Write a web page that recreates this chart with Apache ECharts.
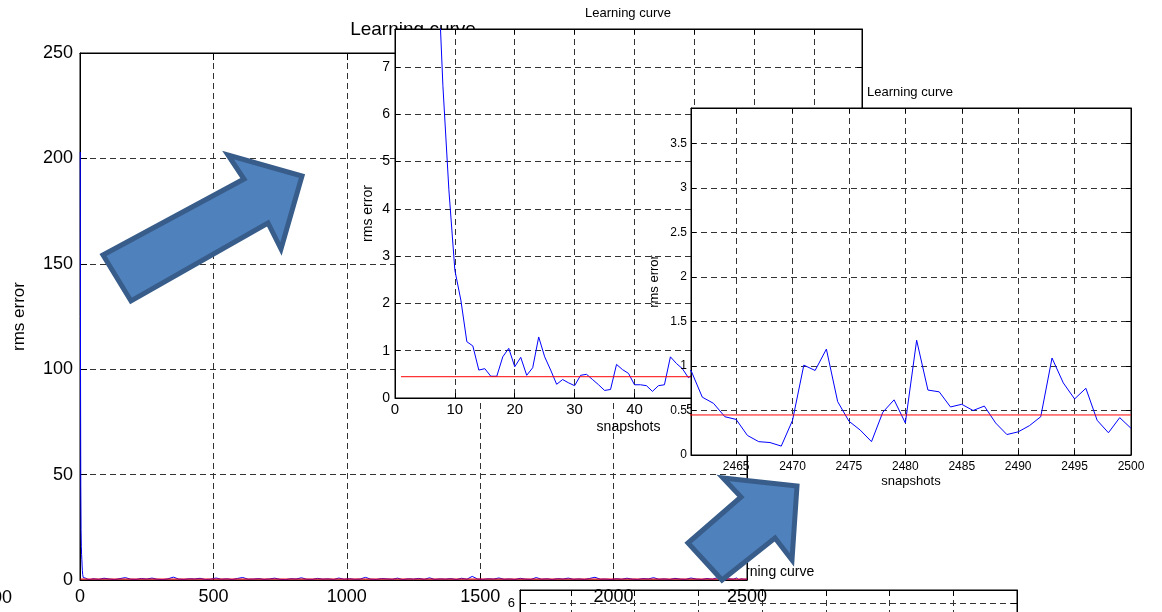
<!DOCTYPE html>
<html>
<head>
<meta charset="utf-8">
<title>Learning curve</title>
<script src="https://cdn.jsdelivr.net/npm/echarts@6/dist/echarts.min.js"></script>
<style>
  html, body { margin: 0; padding: 0; background: #fff; overflow: hidden; }
  .layer { position: absolute; left: 0; top: 0; width: 1162px; height: 612px; }
</style>
</head>
<body>
<div id="lowerPanel" class="layer"></div>
<div id="fullRun" class="layer"></div>
<div id="earlyRun" class="layer"></div>
<div id="lateRun" class="layer"></div>
<div id="arrows" class="layer"></div>
<script>
// ---- data: rms error per snapshot ----
// snapshots 1..49
const startErrors = [
  203, 95, 44, 24, 16, 12, 9.6, 6.6, 4.4, 2.7,
  2.07, 1.19, 1.10, 0.59, 0.62, 0.46, 0.46, 0.87, 1.05, 0.66,
  0.86, 0.48, 0.64, 1.29, 0.87, 0.59, 0.29, 0.39, 0.32, 0.26,
  0.48, 0.50, 0.39, 0.28, 0.16, 0.18, 0.71, 0.60, 0.52, 0.28,
  0.28, 0.26, 0.14, 0.26, 0.28, 0.87, 0.73, 0.62, 0.43
];
// every 20th snapshot from 50 to 2450
const midFirstSnapshot = 50;
const midStep = 20;
const midErrors = [
  0.52, 0.31, 0.84, 0.47, 0.22, 0.66, 1.12, 0.38, 0.29, 0.73,
  0.45, 0.91, 0.34, 0.18, 0.57, 1.36, 0.42, 0.27, 0.63, 0.49,
  0.81, 0.24, 0.39, 0.95, 0.33, 0.58, 0.21, 0.74, 1.18, 0.36,
  0.44, 0.69, 0.26, 0.52, 0.87, 0.31, 0.19, 0.62, 0.48, 1.05,
  0.35, 0.28, 0.77, 0.41, 0.56, 0.23, 0.92, 0.37, 0.64, 0.30,
  0.46, 1.24, 0.39, 0.25, 0.71, 0.53, 0.34, 0.88, 0.20, 0.59,
  0.43, 0.76, 0.32, 1.02, 0.27, 0.55, 0.40, 0.68, 0.22, 0.83,
  0.37, 1.71, 0.48, 0.29, 0.61, 0.45, 0.96, 0.33, 0.52, 0.24,
  0.79, 0.41, 0.28, 1.15, 0.36, 0.58, 0.21, 0.67, 0.44, 0.89,
  0.31, 0.54, 0.26, 0.73, 1.28, 0.38, 0.47, 0.19, 0.62, 0.35,
  0.85, 0.42, 0.27, 0.66, 0.51, 1.09, 0.33, 0.57, 0.23, 0.78,
  0.40, 0.30, 0.94, 0.46, 0.25, 0.70, 0.37, 1.13, 0.29, 0.55,
  0.41
];
// snapshots 2461..2500
const endFirstSnapshot = 2461;
const endErrors = [
  0.95, 0.65, 0.58, 0.43, 0.40, 0.22, 0.15, 0.14, 0.10, 0.39,
  1.01, 0.95, 1.19, 0.60, 0.38, 0.28, 0.15, 0.48, 0.62, 0.36,
  1.29, 0.73, 0.71, 0.54, 0.57, 0.50, 0.55, 0.36, 0.23, 0.26,
  0.33, 0.43, 1.09, 0.81, 0.63, 0.75, 0.39, 0.25, 0.42, 0.30
];
const targetError = 0.45;
const lastSnapshot = 2500;

// tick labels
const fullXTicks = [0, 500, 1000, 1500, 2000, 2500];
const fullYTicks = [0, 50, 100, 150, 200, 250];
const earlyXTicks = [0, 10, 20, 30, 40, 50, 60, 70];
const earlyYTicks = [0, 1, 2, 3, 4, 5, 6, 7];
const lateXTicks = [2465, 2470, 2475, 2480, 2485, 2490, 2495, 2500];
const lateYTicks = [0, 0.5, 1, 1.5, 2, 2.5, 3, 3.5];
const lowerYTicks = [0, 1, 2, 3, 4, 5, 6];
const lowerYLabels = [6];

// ---- series built from the arrays ----
const curve = [];
startErrors.forEach((v, i) => curve.push([i + 1, v]));
midErrors.forEach((v, i) => curve.push([midFirstSnapshot + i * midStep, v]));
endErrors.forEach((v, i) => curve.push([endFirstSnapshot + i, v]));
const targetLine = [[1, targetError], [lastSnapshot, targetError]];

const FONT = '"Liberation Sans", Arial, Helvetica, sans-serif';
const dash = () => ({ type: [6, 4], color: '#333', width: 1 });
const plain = (v) => String(v);

function axisPair(dim, p) {
  const a = p[dim];
  const isX = dim === 'x';
  const main = {
    type: 'value', gridIndex: 0, position: isX ? 'bottom' : 'left', min: a.min, max: a.max,
    axisLine: { show: true, onZero: false, lineStyle: { color: '#000', width: 1 } },
    axisTick: { show: true, inside: true, length: p.tickLen, customValues: a.ticks, lineStyle: { color: '#000' } },
    axisLabel: { show: a.showLabels !== false, customValues: a.labels || a.ticks, formatter: plain,
                 color: '#000', fontSize: a.font, margin: a.margin, fontFamily: FONT },
    splitLine: { show: true, lineStyle: dash() }
  };
  if (a.name) {
    main.name = a.name; main.nameLocation = 'middle'; main.nameGap = a.nameGap;
    main.nameMoveOverlap = false;
    main.nameTextStyle = { color: '#000', fontSize: a.nameFont, fontFamily: FONT };
  }
  const mirror = {
    type: 'value', gridIndex: 0, position: isX ? 'top' : 'right', min: a.min, max: a.max,
    axisLine: { show: true, onZero: false, lineStyle: { color: '#000', width: 1 } },
    axisTick: { show: true, inside: true, length: p.tickLen, customValues: a.ticks, lineStyle: { color: '#000' } },
    axisLabel: { show: false },
    splitLine: { show: false }
  };
  return [main, mirror];
}

function buildPanel(p) {
  const graphic = [{
    type: 'text', x: p.titleX, y: p.titleY, z: 10,
    style: { text: 'Learning curve', fill: '#000', font: p.titleFont + 'px ' + FONT,
             textAlign: 'center', textVerticalAlign: 'middle' }
  }].concat(p.extraGraphic || []);
  return {
    animation: false,
    backgroundColor: 'transparent',
    textStyle: { fontFamily: FONT },
    grid: {
      left: p.left, top: p.top, width: p.width, height: p.height,
      show: true, backgroundColor: '#fff', borderColor: '#000', borderWidth: 1,
      containLabel: false, outerBoundsMode: 'none'
    },
    xAxis: axisPair('x', p),
    yAxis: axisPair('y', p),
    graphic: graphic,
    series: [
      { type: 'line', data: curve, symbol: 'none', clip: true, z: 3,
        lineStyle: { color: '#0000ff', width: 1 } },
      { type: 'line', data: targetLine, symbol: 'none', clip: true, z: 3,
        lineStyle: { color: '#ff0000', width: 1 } }
    ]
  };
}

// partly visible copy of the late-run plot along the bottom edge
echarts.init(document.getElementById('lowerPanel')).setOption(buildPanel({
  left: 520, top: 590, width: 497, height: 410, tickLen: 6,
  x: { min: 2461, max: 2500, ticks: lateXTicks, showLabels: false, font: 12, margin: 4 },
  y: { min: 0, max: 6.2, ticks: lowerYTicks, labels: lowerYLabels, font: 13, margin: 5 },
  titleX: 768, titleY: 572, titleFont: 14
}));

// whole training run, 0..2500 snapshots
echarts.init(document.getElementById('fullRun')).setOption(buildPanel({
  left: 80, top: 53, width: 667, height: 527, tickLen: 7,
  x: { min: 0, max: 2500, ticks: fullXTicks, font: 18, margin: 8 },
  y: { min: 0, max: 250, ticks: fullYTicks, font: 18, margin: 7,
       name: 'rms error', nameGap: 52, nameFont: 17 },
  titleX: 413, titleY: 30, titleFont: 19,
  extraGraphic: [{
    type: 'text', x: 12, y: 598, z: 10,
    style: { text: '2500', fill: '#000', font: '18px ' + FONT, textAlign: 'right', textVerticalAlign: 'middle' }
  }]
}));

// first snapshots
echarts.init(document.getElementById('earlyRun')).setOption(buildPanel({
  left: 395, top: 29, width: 467, height: 369, tickLen: 5,
  x: { min: 0, max: 78, ticks: earlyXTicks, font: 15, margin: 4,
       name: 'snapshots', nameGap: 22, nameFont: 14 },
  y: { min: 0, max: 7.8, ticks: earlyYTicks, font: 14, margin: 5,
       name: 'rms error', nameGap: 20, nameFont: 14 },
  titleX: 628, titleY: 13, titleFont: 13
}));

// last 40 snapshots
echarts.init(document.getElementById('lateRun')).setOption(buildPanel({
  left: 691, top: 108, width: 440, height: 347, tickLen: 5,
  x: { min: 2461, max: 2500, ticks: lateXTicks, font: 12, margin: 6,
       name: 'snapshots', nameGap: 20, nameFont: 13 },
  y: { min: 0, max: 3.9, ticks: lateYTicks, font: 12, margin: 4,
       name: 'rms error', nameGap: 30, nameFont: 13 },
  titleX: 910, titleY: 92, titleFont: 13
}));

// block arrows pointing to the zoomed views
const arrowStyle = { fill: '#4f81bd', stroke: '#385d8a', lineWidth: 5, lineJoin: 'miter' };
echarts.init(document.getElementById('arrows')).setOption({
  animation: false,
  backgroundColor: 'transparent',
  graphic: [
    { type: 'polygon', z: 50, style: arrowStyle,
      shape: { points: [[103, 255], [131, 301], [268, 223], [281, 249], [302, 176], [228, 155], [244, 179]] } },
    { type: 'polygon', z: 50, style: arrowStyle,
      shape: { points: [[688, 543], [741, 497], [723, 478], [797, 486], [792, 560], [775, 538], [722, 580]] } }
  ]
});
</script>
</body>
</html>
